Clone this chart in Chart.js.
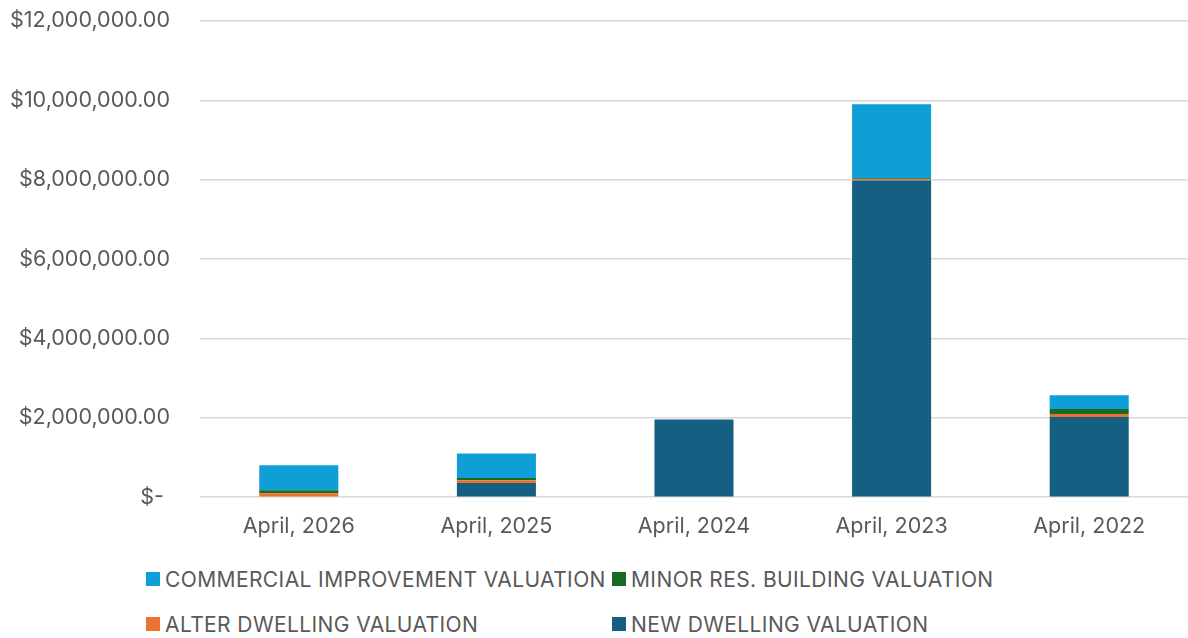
<!DOCTYPE html>
<html>
<head>
<meta charset="utf-8">
<script src="https://cdn.jsdelivr.net/npm/chart.js@4.4.1/dist/chart.umd.min.js"></script>
<style>
  html, body { margin: 0; padding: 0; background: #fff; overflow: hidden; }
  #wrap { position: relative; width: 1188px; height: 638px; overflow: hidden; }
  #box { position: absolute; left: 0; top: -22px; width: 1188px; height: 569px; }
  #legend {
    position: absolute; left: 146px; top: 566px;
    display: grid; grid-template-columns: 466px auto; row-gap: 19px;
    font-family: "Inter", sans-serif; font-size: 21px; letter-spacing: 0.4px; color: #595959;
  }
  .item { display: flex; align-items: center; height: 26px; white-space: nowrap; }
  .sw { width: 14px; height: 14px; margin-right: 5px; }
</style>
</head>
<body>
<div id="wrap">
  <div id="box"><canvas id="chart1"></canvas></div>
  <div id="legend"></div>
</div>
<script>
// categories
var months = ["April, 2026", "April, 2025", "April, 2024", "April, 2023", "April, 2022"];
// series values (dollars), bottom of stack first
var newDwelling = [0, 360000, 1955000, 7980000, 2020000];
var alterDwelling = [100000, 68000, 0, 30000, 75000];
var minorRes = [75000, 58000, 0, 25000, 126000];
var commercial = [630000, 614000, 0, 1865000, 345000];
// y tick values
var yTicks = [0, 2000000, 4000000, 6000000, 8000000, 10000000, 12000000];

var names = ["NEW DWELLING VALUATION", "ALTER DWELLING VALUATION", "MINOR RES. BUILDING VALUATION", "COMMERCIAL IMPROVEMENT VALUATION"];
var colors = ["#156082", "#E97132", "#196B24", "#0F9ED5"];
var values = [newDwelling, alterDwelling, minorRes, commercial];

var datasets = [];
for (var i = 0; i < values.length; i++) {
    datasets.push({
        label: names[i],
        data: values[i],
        backgroundColor: colors[i],
        borderWidth: 0,
        categoryPercentage: 1,
        barPercentage: 0.4
    });
}

function money(v) {
    if (v === 0) return "$- ";
    return "$" + v.toLocaleString("en-US", {minimumFractionDigits: 2, maximumFractionDigits: 2});
}

var font = {family: "Inter, sans-serif", size: 21.5};

var ctx = document.getElementById("chart1").getContext("2d");
var myChart = new Chart(ctx, {
    type: "bar",
    data: { labels: months, datasets: datasets },
    options: {
        responsive: true,
        maintainAspectRatio: false,
        animation: false,
        layout: { padding: { top: 8, right: 0, left: 0, bottom: 0 } },
        plugins: { legend: { display: false }, tooltip: { enabled: false } },
        scales: {
            x: {
                stacked: true,
                grid: { display: false },
                border: { display: false },
                ticks: { color: "#595959", font: font, padding: 8 }
            },
            y: {
                stacked: true,
                min: 0,
                max: 12000000,
                afterBuildTicks: function (scale) {
                    scale.ticks = yTicks.map(function (v) { return {value: v}; });
                },
                afterFit: function (scale) { scale.width = 200; },
                grid: { color: "#d9d9d9", lineWidth: 1.5, drawTicks: false },
                border: { display: false },
                ticks: { color: "#595959", font: font, padding: 30, callback: function (v) { return money(v); } }
            }
        }
    }
});

// legend, same order as the reference
var order = [3, 2, 1, 0];
var lg = document.getElementById("legend");
order.forEach(function (k) {
    var d = document.createElement("div");
    d.className = "item";
    d.innerHTML = '<span class="sw" style="background:' + colors[k] + '"></span>' + names[k];
    lg.appendChild(d);
});
</script>
</body>
</html>
